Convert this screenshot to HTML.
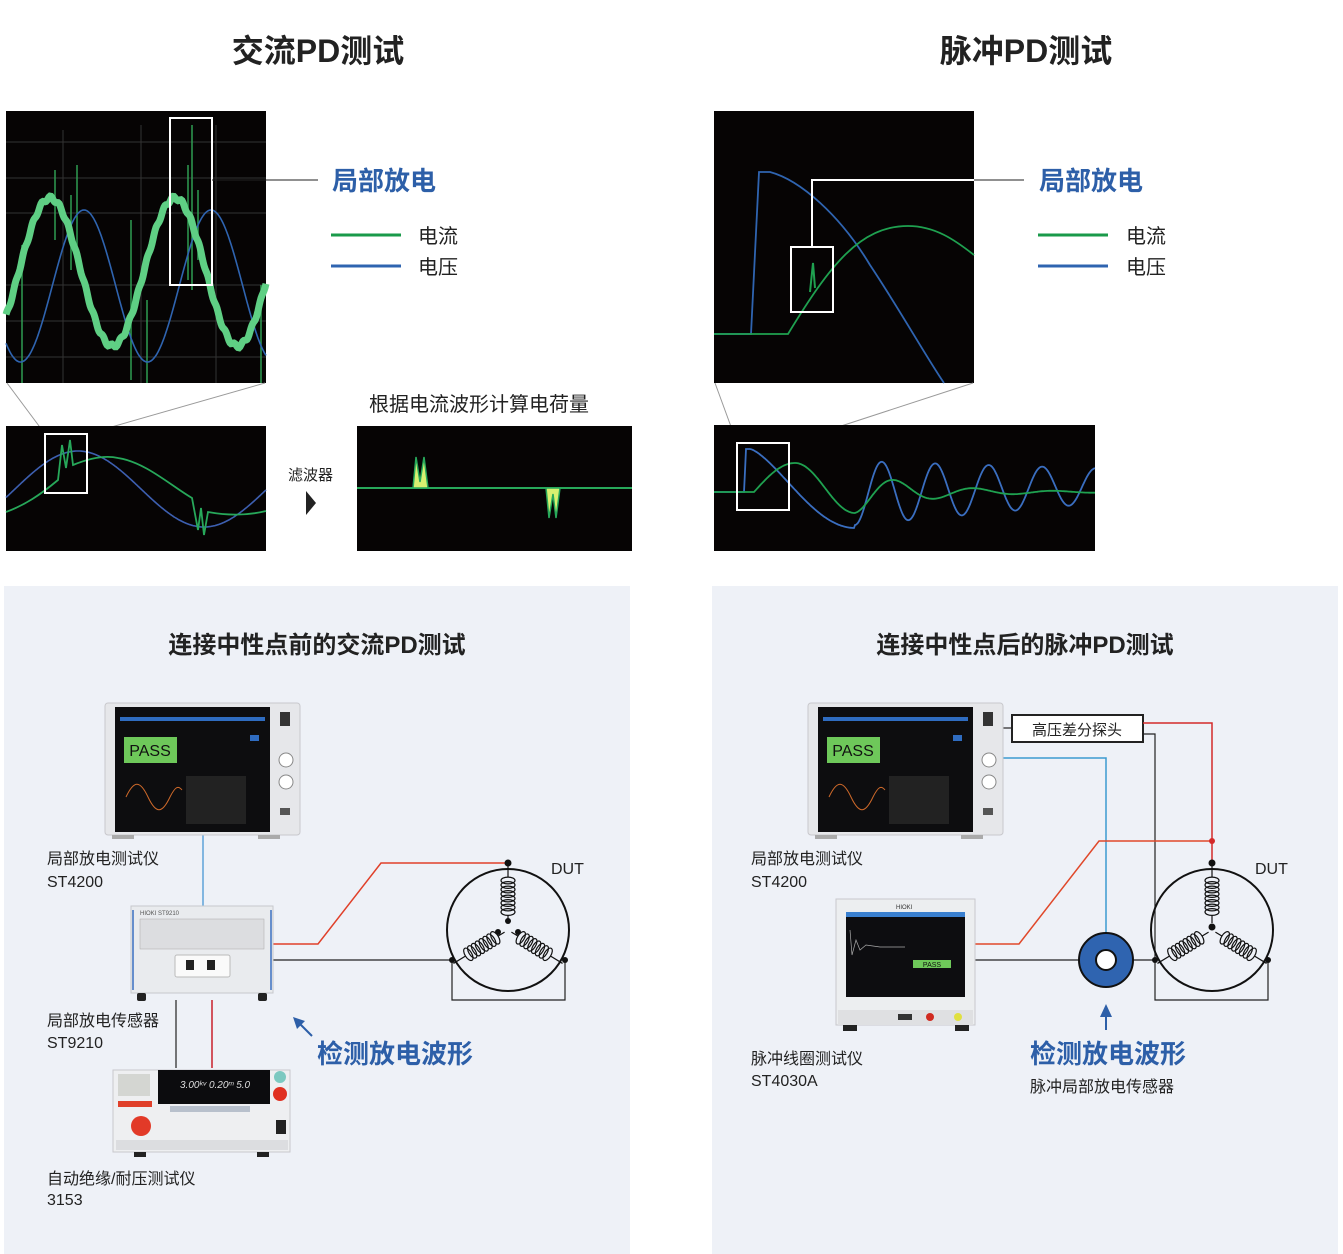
<!DOCTYPE html>
<html><head><meta charset="utf-8"><style>
html,body{margin:0;padding:0;background:#fff;width:1343px;height:1254px;overflow:hidden}
svg{display:block}
text{font-family:"Liberation Sans","Noto Sans CJK SC",sans-serif}
</style></head><body>
<svg id="s" width="1343" height="1254" viewBox="0 0 1343 1254" xmlns="http://www.w3.org/2000/svg">
<defs>
<g id="coil" fill="none" stroke="#111" stroke-width="1.2">
<line x1="0" y1="-4" x2="0" y2="-12"/>
<ellipse cx="0" cy="-15" rx="7" ry="3.4"/><ellipse cx="0" cy="-19.5" rx="7" ry="3.4"/><ellipse cx="0" cy="-24" rx="7" ry="3.4"/><ellipse cx="0" cy="-28.5" rx="7" ry="3.4"/><ellipse cx="0" cy="-33" rx="7" ry="3.4"/><ellipse cx="0" cy="-37.5" rx="7" ry="3.4"/><ellipse cx="0" cy="-42" rx="7" ry="3.4"/><ellipse cx="0" cy="-46.5" rx="7" ry="3.4"/>
<line x1="0" y1="-50" x2="0" y2="-64"/>
</g>
</defs>
<text x="318" y="62" text-anchor="middle" font-size="32" font-weight="bold" fill="#222">交流PD测试</text>
<text x="1026" y="62" text-anchor="middle" font-size="32" font-weight="bold" fill="#222">脉冲PD测试</text>

<rect x="6" y="111" width="260" height="272" fill="#060404"/>
<g stroke="#333" stroke-width="1">
<line x1="6" y1="142" x2="266" y2="142"/><line x1="6" y1="178" x2="266" y2="178"/><line x1="6" y1="213" x2="266" y2="213"/><line x1="6" y1="285" x2="266" y2="285"/><line x1="6" y1="321" x2="266" y2="321"/><line x1="6" y1="357" x2="266" y2="357"/>
<line x1="63" y1="130" x2="63" y2="383"/><line x1="141" y1="125" x2="141" y2="383"/><line x1="216" y1="125" x2="216" y2="383"/>
</g>
<g stroke="#2e9c52" stroke-width="1.5">
<line x1="22" y1="245" x2="22" y2="383"/><line x1="55" y1="170" x2="55" y2="240"/><line x1="71" y1="195" x2="71" y2="270"/><line x1="77" y1="165" x2="77" y2="260"/>
<line x1="131" y1="220" x2="131" y2="380"/><line x1="147" y1="300" x2="147" y2="383"/><line x1="188" y1="165" x2="188" y2="280"/><line x1="192" y1="125" x2="192" y2="290"/>
<line x1="198" y1="190" x2="198" y2="260"/><line x1="261" y1="285" x2="261" y2="383"/>
</g>
<path id="tlb" fill="none" stroke="#2f64b0" stroke-width="1.6"/>
<path id="tlg" fill="none" stroke="#5fcf84" stroke-width="7"/>
<rect x="170" y="118" width="42" height="167" fill="none" stroke="#fff" stroke-width="2"/>
<line x1="212" y1="180" x2="318" y2="180" stroke="#222" stroke-width="1"/>
<text x="332" y="190" font-size="26" font-weight="bold" fill="#2d5fa8">局部放电</text>
<line x1="331" y1="235" x2="401" y2="235" stroke="#1a9a4a" stroke-width="3"/>
<line x1="331" y1="266" x2="401" y2="266" stroke="#2f64b0" stroke-width="3"/>
<text x="418" y="243" font-size="20" fill="#222">电流</text>
<text x="418" y="274" font-size="20" fill="#222">电压</text>

<line x1="7" y1="383" x2="45" y2="434" stroke="#999" stroke-width="1"/>
<line x1="265" y1="383" x2="87" y2="434" stroke="#999" stroke-width="1"/>
<rect x="6" y="426" width="260" height="125" fill="#060404"/>
<path id="blb" fill="none" stroke="#3d5fb0" stroke-width="1.6"/>
<path d="M6 512 C25 505 40 495 58 480 L62 445 L66 468 L70 440 L73 465 C90 458 105 455 118 458 C145 462 170 485 192 498 L198 530 L201 508 L204 535 L208 512 C230 516 250 515 266 511" fill="none" stroke="#27a85a" stroke-width="1.8"/>
<rect x="45" y="434" width="42" height="59" fill="none" stroke="#fff" stroke-width="2"/>

<text x="288" y="480" font-size="15" fill="#222">滤波器</text>
<polygon points="306,491 316,503 306,515" fill="#222"/>
<text x="369" y="411" font-size="20" fill="#222">根据电流波形计算电荷量</text>
<rect x="357" y="426" width="275" height="125" fill="#060404"/>
<line x1="357" y1="488" x2="632" y2="488" stroke="#27a85a" stroke-width="2"/>
<polygon points="413,488 416,457 420,482 424,457 428,488" fill="#d8f070" stroke="#27a85a" stroke-width="1.5"/>
<polygon points="546,488 549,518 553,494 556,518 560,488" fill="#d8f070" stroke="#27a85a" stroke-width="1.5"/>

<rect x="714" y="111" width="260" height="272" fill="#060404"/>
<path d="M714 334 L751 334 L759 172 L770 172 C800 180 840 215 870 265 C900 310 925 355 944 383" fill="none" stroke="#2f64b0" stroke-width="1.8"/>
<path d="M714 334 L788 334 C830 265 860 226 908 226 C935 226 955 240 974 255" fill="none" stroke="#1fa150" stroke-width="1.8"/>
<path d="M810 292 L813 263 L815 288" fill="none" stroke="#1fa150" stroke-width="2"/>
<rect x="791" y="247" width="42" height="65" fill="none" stroke="#fff" stroke-width="2"/>
<polyline points="812,247 812,180 974,180" fill="none" stroke="#fff" stroke-width="2"/>
<line x1="974" y1="180" x2="1024" y2="180" stroke="#222" stroke-width="1"/>
<text x="1039" y="190" font-size="26" font-weight="bold" fill="#2d5fa8">局部放电</text>
<line x1="1038" y1="235" x2="1108" y2="235" stroke="#1a9a4a" stroke-width="3"/>
<line x1="1038" y1="266" x2="1108" y2="266" stroke="#2f64b0" stroke-width="3"/>
<text x="1126" y="243" font-size="20" fill="#222">电流</text>
<text x="1126" y="274" font-size="20" fill="#222">电压</text>

<line x1="715" y1="383" x2="737" y2="443" stroke="#999" stroke-width="1"/>
<line x1="973" y1="383" x2="789" y2="443" stroke="#999" stroke-width="1"/>
<rect x="714" y="425" width="381" height="126" fill="#060404"/>
<path id="brb" fill="none" stroke="#3a6ec0" stroke-width="1.8"/>
<path id="brg" fill="none" stroke="#1fa150" stroke-width="1.8"/>
<rect x="737" y="443" width="52" height="67" fill="none" stroke="#fff" stroke-width="2"/>

<rect x="4" y="586" width="626" height="668" fill="#eef1f7"/>
<rect x="712" y="586" width="626" height="668" fill="#eef1f7"/>
<text x="317" y="653" text-anchor="middle" font-size="24" font-weight="bold" fill="#222">连接中性点前的交流PD测试</text>
<text x="1025" y="653" text-anchor="middle" font-size="24" font-weight="bold" fill="#222">连接中性点后的脉冲PD测试</text>

<line x1="203" y1="835" x2="203" y2="907" stroke="#3b8fd0" stroke-width="1.2"/>
<polyline points="273,944 318,944 381,863 508,863" fill="none" stroke="#e0402a" stroke-width="1.5"/>
<polyline points="273,960 452,960" fill="none" stroke="#222" stroke-width="1.2"/>
<polyline points="452,960 452,1000 565,1000 565,960" fill="none" stroke="#222" stroke-width="1.2"/>
<line x1="212" y1="1000" x2="212" y2="1068" stroke="#c8202a" stroke-width="1.5"/>
<line x1="176" y1="1000" x2="176" y2="1068" stroke="#222" stroke-width="1.2"/>

<ellipse cx="508" cy="930" rx="61" ry="61" fill="none" stroke="#111" stroke-width="2"/>
<use href="#coil" transform="translate(508,927)"/>
<use href="#coil" transform="translate(508,930) rotate(-121.5)"/>
<use href="#coil" transform="translate(508,930) rotate(121.5)"/>
<g fill="#111"><circle cx="508" cy="863" r="3.5"/><circle cx="508" cy="921" r="3"/><circle cx="498" cy="932" r="3"/><circle cx="518" cy="932" r="3"/><circle cx="452" cy="960" r="3"/><circle cx="565" cy="960" r="3"/></g>
<text x="551" y="874" font-size="16" fill="#222">DUT</text>

<g>
<rect x="105" y="703" width="195" height="132" rx="3" fill="#e6e7ea" stroke="#c8c8cc"/>
<rect x="115" y="707" width="155" height="125" fill="#0d0d0f"/>
<rect x="120" y="717" width="145" height="4" fill="#2f6cc0"/>
<rect x="124" y="737" width="53" height="26" fill="#6ec85a"/>
<text x="150" y="756" text-anchor="middle" font-size="16" fill="#111">PASS</text>
<path d="M126 797 C134 780 140 780 148 797 C156 814 162 814 170 797 C175 787 178 785 182 790" fill="none" stroke="#d06a2a" stroke-width="1"/>
<rect x="186" y="776" width="60" height="48" fill="#222"/>
<rect x="250" y="735" width="9" height="6" fill="#2f6cc0"/>
<circle cx="286" cy="760" r="7" fill="#fff" stroke="#888"/>
<circle cx="286" cy="782" r="7" fill="#fff" stroke="#888"/>
<rect x="280" y="712" width="10" height="14" fill="#333"/>
<rect x="280" y="808" width="10" height="7" fill="#555"/>
<rect x="112" y="835" width="22" height="4" fill="#aaa"/><rect x="258" y="835" width="22" height="4" fill="#aaa"/>
</g>
<text x="47" y="864" font-size="16" fill="#222">局部放电测试仪</text>
<text x="47" y="887" font-size="16" fill="#222">ST4200</text>

<g>
<rect x="131" y="906" width="142" height="87" fill="#e9ebee" stroke="#c6c8cc"/>
<line x1="133" y1="910" x2="133" y2="990" stroke="#3a6ec0" stroke-width="1.5"/>
<line x1="271" y1="910" x2="271" y2="990" stroke="#3a6ec0" stroke-width="1.5"/>
<rect x="140" y="919" width="124" height="30" fill="#dcdde0" stroke="#aaa" stroke-width=".5"/>
<text x="140" y="915" font-size="6" fill="#555">HIOKI   ST9210</text>
<rect x="175" y="955" width="55" height="22" rx="2" fill="#fafafa" stroke="#bbb"/>
<rect x="186" y="960" width="8" height="10" fill="#222"/><rect x="207" y="960" width="8" height="10" fill="#222"/>
<rect x="137" y="993" width="9" height="8" rx="2" fill="#222"/><rect x="258" y="993" width="9" height="8" rx="2" fill="#222"/>
</g>
<text x="47" y="1026" font-size="16" fill="#222">局部放电传感器</text>
<text x="47" y="1048" font-size="16" fill="#222">ST9210</text>

<g>
<rect x="113" y="1070" width="177" height="82" fill="#eeeff1" stroke="#c8c8cc"/>
<rect x="118" y="1074" width="32" height="22" fill="#d4d6d2"/>
<rect x="158" y="1070" width="112" height="34" fill="#0c0c0e"/>
<text x="180" y="1088" font-size="10" fill="#ddd" font-style="italic">3.00ᵏᵛ 0.20ᵐ 5.0</text>
<rect x="118" y="1101" width="34" height="6" fill="#e0402a"/>
<circle cx="141" cy="1126" r="10" fill="#e23a28"/>
<circle cx="280" cy="1077" r="6" fill="#7cc9c0"/>
<circle cx="280" cy="1094" r="7" fill="#e03020"/>
<rect x="276" y="1120" width="10" height="14" fill="#222"/>
<rect x="170" y="1106" width="80" height="6" fill="#b8c0cc"/>
<rect x="116" y="1140" width="172" height="10" fill="#dcdde0"/>
<rect x="134" y="1152" width="12" height="5" fill="#222"/><rect x="257" y="1152" width="12" height="5" fill="#222"/>
</g>
<text x="47" y="1184" font-size="16" fill="#222">自动绝缘/耐压测试仪</text>
<text x="47" y="1205" font-size="16" fill="#222">3153</text>

<line x1="312" y1="1036" x2="298" y2="1022" stroke="#2d5fa8" stroke-width="2"/>
<polygon points="293,1017 305,1021 297,1029" fill="#2d5fa8"/>
<text x="317" y="1063" font-size="26" font-weight="bold" fill="#2d5fa8">检测放电波形</text>

<line x1="1003" y1="728" x2="1012" y2="728" stroke="#222" stroke-width="1.2"/>
<rect x="1012" y="715" width="131" height="27" fill="#fff" stroke="#222" stroke-width="2"/>
<text x="1077" y="735" text-anchor="middle" font-size="15" fill="#222">高压差分探头</text>
<polyline points="1143,723 1212,723 1212,865" fill="none" stroke="#d42a2a" stroke-width="1.5"/>
<polyline points="1143,734 1155,734 1155,1000 1268,1000 1268,960" fill="none" stroke="#222" stroke-width="1.2"/>
<polyline points="1003,758 1106,758 1106,935" fill="none" stroke="#3b9ad0" stroke-width="1.5"/>
<polyline points="975,944 1019,944 1099,841 1212,841" fill="none" stroke="#e0482a" stroke-width="1.5"/>
<line x1="975" y1="960" x2="1155" y2="960" stroke="#222" stroke-width="1.2"/>
<circle cx="1212" cy="841" r="3" fill="#d42a2a"/>
<circle cx="1106" cy="960" r="27" fill="#2f64b0" stroke="#111" stroke-width="2"/>
<circle cx="1106" cy="960" r="10" fill="#fff" stroke="#111" stroke-width="2"/>

<ellipse cx="1212" cy="930" rx="61" ry="61" fill="none" stroke="#111" stroke-width="2"/>
<use href="#coil" transform="translate(1212,927)"/>
<use href="#coil" transform="translate(1212,930) rotate(-121.5)"/>
<use href="#coil" transform="translate(1212,930) rotate(121.5)"/>
<g fill="#111"><circle cx="1212" cy="863" r="3.5"/><circle cx="1212" cy="927" r="3.5"/><circle cx="1155" cy="960" r="3"/><circle cx="1268" cy="960" r="3"/></g>
<text x="1255" y="874" font-size="16" fill="#222">DUT</text>

<g transform="translate(703,0)">
<rect x="105" y="703" width="195" height="132" rx="3" fill="#e6e7ea" stroke="#c8c8cc"/>
<rect x="115" y="707" width="155" height="125" fill="#0d0d0f"/>
<rect x="120" y="717" width="145" height="4" fill="#2f6cc0"/>
<rect x="124" y="737" width="53" height="26" fill="#6ec85a"/>
<text x="150" y="756" text-anchor="middle" font-size="16" fill="#111">PASS</text>
<path d="M126 797 C134 780 140 780 148 797 C156 814 162 814 170 797 C175 787 178 785 182 790" fill="none" stroke="#d06a2a" stroke-width="1"/>
<rect x="186" y="776" width="60" height="48" fill="#222"/>
<rect x="250" y="735" width="9" height="6" fill="#2f6cc0"/>
<circle cx="286" cy="760" r="7" fill="#fff" stroke="#888"/>
<circle cx="286" cy="782" r="7" fill="#fff" stroke="#888"/>
<rect x="280" y="712" width="10" height="14" fill="#333"/>
<rect x="280" y="808" width="10" height="7" fill="#555"/>
<rect x="112" y="835" width="22" height="4" fill="#aaa"/><rect x="258" y="835" width="22" height="4" fill="#aaa"/>
</g>
<text x="751" y="864" font-size="16" fill="#222">局部放电测试仪</text>
<text x="751" y="887" font-size="16" fill="#222">ST4200</text>

<g>
<rect x="836" y="899" width="139" height="126" fill="#eceef0" stroke="#c8c8cc"/>
<rect x="846" y="912" width="119" height="85" fill="#0d0d10"/>
<rect x="846" y="912" width="119" height="5" fill="#3a80d0"/>
<text x="896" y="909" font-size="6" fill="#333">HIOKI</text>
<rect x="913" y="960" width="38" height="8" fill="#6ec85a"/>
<text x="932" y="967" text-anchor="middle" font-size="7" fill="#111">PASS</text>
<path d="M850 930 L852 955 L856 940 L860 950 L866 945 L880 947 L905 947" fill="none" stroke="#aaa" stroke-width=".7"/>
<rect x="838" y="1010" width="135" height="15" fill="#dfe0e2"/>
<circle cx="930" cy="1017" r="4" fill="#d02a20"/><circle cx="958" cy="1017" r="4" fill="#e0e040"/>
<rect x="898" y="1014" width="14" height="6" fill="#333"/>
<rect x="843" y="1025" width="14" height="6" fill="#222"/><rect x="955" y="1025" width="14" height="6" fill="#222"/>
</g>
<text x="751" y="1064" font-size="16" fill="#222">脉冲线圈测试仪</text>
<text x="751" y="1086" font-size="16" fill="#222">ST4030A</text>

<line x1="1106" y1="1030" x2="1106" y2="1014" stroke="#2d5fa8" stroke-width="2"/>
<polygon points="1100,1017 1106,1004 1112,1017" fill="#2d5fa8"/>
<text x="1030" y="1063" font-size="26" font-weight="bold" fill="#2d5fa8">检测放电波形</text>
<text x="1030" y="1092" font-size="16" fill="#222">脉冲局部放电传感器</text>
</svg>
<script>
function P(id,f,x0,x1,st){var d="";for(var x=x0;x<=x1;x+=st){d+=(x==x0?"M":"L")+x.toFixed(1)+" "+f(x).toFixed(1)+" ";}document.getElementById(id).setAttribute("d",d);}
var T=2*Math.PI;
P("tlb",function(x){return 286-76*Math.cos(T*(x-84)/127);},6,266,1);
P("tlg",function(x){return 272-74*Math.cos(T*(x-50)/125)+(Math.sin(x*7)*2);},6,266,1);
P("blb",function(x){return 489-38*Math.cos(T*(x-78)/252);},6,266,1);
P("brb",function(x){
 if(x<744)return 492; if(x<746)return 492-(x-744)*21; if(x<750)return 449;
 if(x<855){var t=(x-750)/105;return 449+79*Math.pow(Math.sin(t*Math.PI/2),1.4);}
 var t=x-855;var A=32-t*0.06;var c=493-t*0.03;return c+A*Math.cos(T*t/53.5);
},714,1095,1);
P("brg",function(x){
 if(x<754)return 492;
 if(x<795){var t=(x-754)/41;return 492-29*Math.sin(t*Math.PI/2);}
 if(x<855){var t=(x-795)/60;return 463+50*(1-Math.cos(t*Math.PI))/2;}
 var t=x-855;var A=(21*Math.exp(-t/70));return 492+A*Math.cos(T*t/80);
},714,1095,1);
</script>
</body></html>
